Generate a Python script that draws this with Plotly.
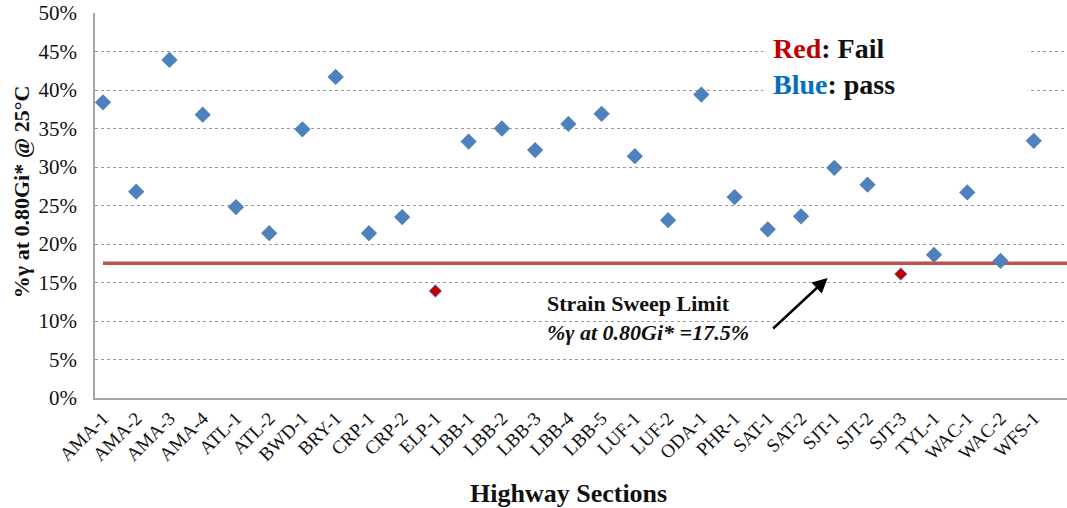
import plotly.graph_objects as go

# Highway sections and measured strain at 0.80Gi* (percent)
sections = ["AMA-1", "AMA-2", "AMA-3", "AMA-4", "ATL-1", "ATL-2", "BWD-1", "BRY-1",
            "CRP-1", "CRP-2", "ELP-1", "LBB-1", "LBB-2", "LBB-3", "LBB-4", "LBB-5",
            "LUF-1", "LUF-2", "ODA-1", "PHR-1", "SAT-1", "SAT-2", "SJT-1", "SJT-2",
            "SJT-3", "TYL-1", "WAC-1", "WAC-2", "WFS-1"]
strain = [38.4, 26.8, 43.9, 36.8, 24.8, 21.4, 34.9, 41.7,
          21.4, 23.5, 13.9, 33.3, 35.0, 32.2, 35.6, 36.9,
          31.4, 23.1, 39.4, 26.1, 21.9, 23.6, 29.9, 27.7,
          16.1, 18.6, 26.7, 17.8, 33.4]
limit = 17.5
y_ticks = [0, 5, 10, 15, 20, 25, 30, 35, 40, 45, 50]

idx = list(range(len(sections)))
pass_x = [i for i in idx if strain[i] >= limit]
fail_x = [i for i in idx if strain[i] < limit]

serif = "Liberation Serif"

fig = go.Figure()

# strain sweep limit line
fig.add_trace(go.Scatter(
    x=[0, len(sections)], y=[limit, limit], mode="lines",
    line=dict(color="#c0504d", width=3.5), hoverinfo="skip", showlegend=False))

fig.add_trace(go.Scatter(
    x=pass_x, y=[strain[i] for i in pass_x], mode="markers",
    marker=dict(symbol="diamond", size=12.5, color="#4f81bd",
                line=dict(width=0)),
    showlegend=False))

fig.add_trace(go.Scatter(
    x=fail_x, y=[strain[i] for i in fail_x], mode="markers",
    marker=dict(symbol="diamond", size=9.5, color="#c00000",
                line=dict(width=0.8, color="#4f81bd")),
    showlegend=False))

fig.update_layout(
    width=1067, height=508,
    margin=dict(l=95, r=0, t=13, b=110),
    paper_bgcolor="white", plot_bgcolor="white",
    font=dict(family=serif, color="#111"),
    xaxis=dict(
        range=[-0.24, 29.0], tickmode="array", tickvals=idx, ticktext=sections,
        tickangle=-45, tickfont=dict(size=19, family=serif, color="#111"),
        showgrid=False, zeroline=False, showline=True,
        linecolor="#a6a6a6", linewidth=1.5, ticks=""),
    yaxis=dict(
        range=[0, 50], tickmode="array", tickvals=y_ticks,
        ticktext=[f"{v}%" for v in y_ticks],
        tickfont=dict(size=21, family=serif, color="#111"),
        ticklabelstandoff=12,
        showgrid=True, gridcolor="#9a9a9a", griddash="dot", gridwidth=1,
        zeroline=False, showline=True, linecolor="#a6a6a6", linewidth=1.5,
        ticks="", ticklen=0),
)

# axis titles
fig.add_annotation(
    text="<b>Highway Sections</b>", xref="paper", yref="paper",
    x=0.487, y=-0.248, xanchor="center", yanchor="middle", showarrow=False,
    font=dict(size=26, family=serif, color="#111"))
fig.add_annotation(
    text="<b>%γ at 0.80Gi* @ 25°C</b>", xref="paper", yref="paper",
    x=-0.076, y=0.535, xanchor="center", yanchor="middle", textangle=-90,
    showarrow=False, font=dict(size=22, family=serif, color="#111"))

# pass / fail key
fig.add_annotation(
    text=("<b><span style='color:#c00000'>Red</span>: Fail</b><br>"
          "<b><span style='color:#0070c0'>Blue</span>: pass</b>"),
    xref="x", yref="y", x=19.85, y=43.0, xanchor="left", yanchor="middle",
    align="left", showarrow=False, bgcolor="white", borderpad=9,
    width=245, font=dict(size=28, family=serif, color="#111"))

# limit label
fig.add_annotation(
    text="<b>Strain Sweep Limit</b><br><b><i>%γ at 0.80Gi* =17.5%</i></b>",
    xref="x", yref="y", x=13.3, y=10.4, xanchor="left", yanchor="middle",
    align="left", showarrow=False, font=dict(size=22, family=serif, color="#111"))

# arrow pointing at the limit line
fig.add_annotation(
    x=21.8, y=15.6, xref="x", yref="y", ax=-56, ay=52,
    text="", showarrow=True, arrowhead=2, arrowsize=1.2, arrowwidth=2.5,
    arrowcolor="#000")

fig.write_html("out.html")
